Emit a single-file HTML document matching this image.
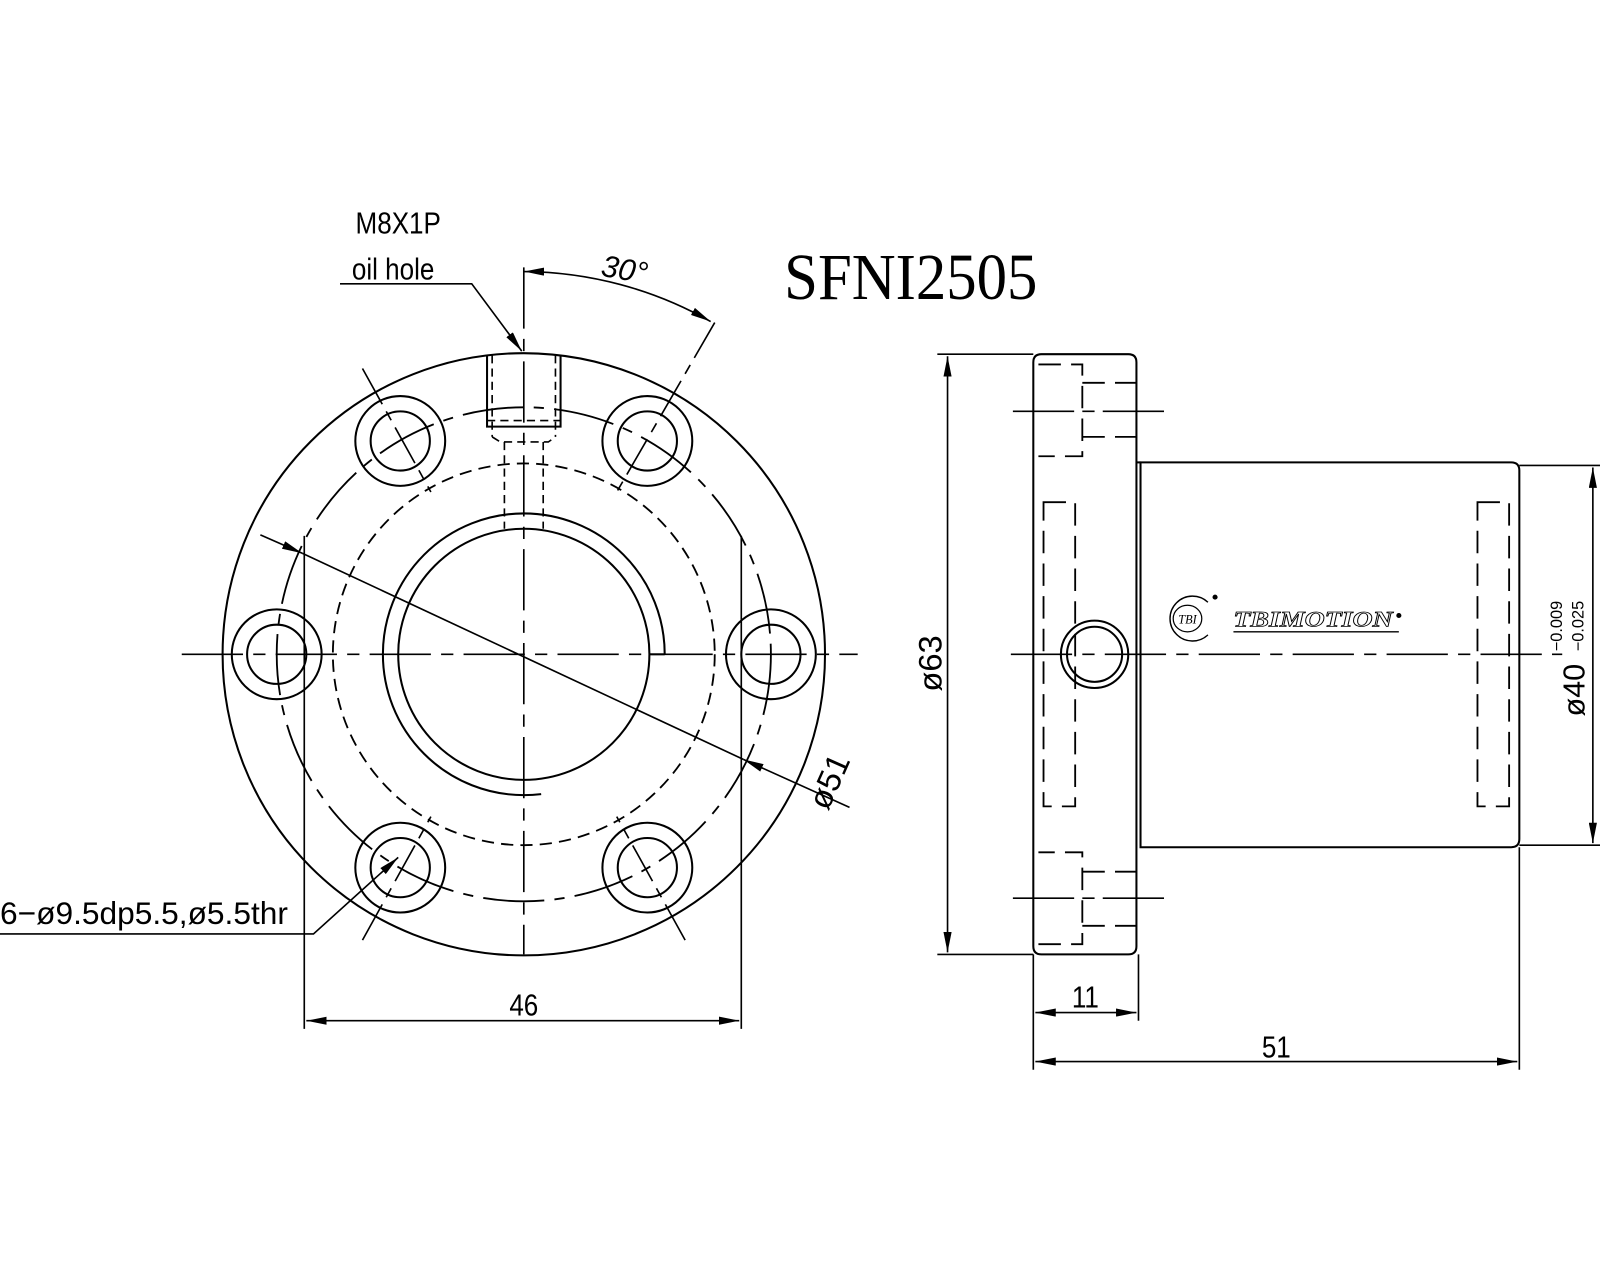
<!DOCTYPE html>
<html><head><meta charset="utf-8"><style>
html,body{margin:0;padding:0;background:#fff;}
svg{display:block;}
text{fill:#000;}
</style></head><body>
<svg width="1600" height="1280" viewBox="0 0 1567 1254" preserveAspectRatio="none" xmlns="http://www.w3.org/2000/svg" font-family="Liberation Sans, sans-serif">
<defs>
<marker id="a" viewBox="0 0 20 8" refX="20" refY="4" markerWidth="20" markerHeight="8" markerUnits="userSpaceOnUse" orient="auto-start-reverse"><path d="M0,0 L20,4 L0,8 z" fill="#000"/></marker>
</defs>
<g fill="none" stroke="#000" stroke-width="2">
<circle cx="513" cy="641" r="295"/>
<circle cx="513" cy="641" r="242" stroke-dasharray="60 10 10 10" stroke-width="1.8"/>
<circle cx="513" cy="641" r="187" stroke-dasharray="12 7" stroke-width="1.8"/>
<path d="M651,641 A138,138 0 1 0 513,779"/>
<line x1="636" y1="641" x2="651" y2="641"/>
<circle cx="513" cy="641" r="123"/>
<path d="M513,779 A138,138 0 0 0 530,778"/>
<g>
<circle cx="271" cy="641" r="44"/><circle cx="271" cy="641" r="29"/>
<circle cx="755" cy="641" r="44"/><circle cx="755" cy="641" r="29"/>
<circle cx="392" cy="432" r="44"/><circle cx="392" cy="432" r="29"/>
<circle cx="634" cy="432" r="44"/><circle cx="634" cy="432" r="29"/>
<circle cx="392" cy="850" r="44"/><circle cx="392" cy="850" r="29"/>
<circle cx="634" cy="850" r="44"/><circle cx="634" cy="850" r="29"/>
</g>
<g stroke-width="1.6" stroke-dasharray="40 8 10 8">
<line x1="355" y1="361" x2="422" y2="482"/>
<line x1="700" y1="316" x2="604" y2="482"/>
<line x1="355" y1="921" x2="422" y2="800"/>
<line x1="671" y1="921" x2="604" y2="800"/>
</g>
<line x1="178" y1="641" x2="840" y2="641" stroke-width="1.6" stroke-dasharray="60 10 12 10"/>
<line x1="513" y1="262" x2="513" y2="935" stroke-width="1.6" stroke-dasharray="60 10 12 10"/>
<path d="M477,348 V418 H549 V348"/>
<g stroke-dasharray="8 5" stroke-width="1.6">
<line x1="482" y1="348" x2="482" y2="428"/><line x1="544" y1="348" x2="544" y2="428"/>
<path d="M482,428 L490,433 H537 L544,428"/>
<line x1="477" y1="412" x2="549" y2="412"/>
<line x1="494" y1="433" x2="494" y2="518"/><line x1="532" y1="433" x2="532" y2="518"/>
</g>
<line x1="298" y1="525" x2="298" y2="1008" stroke-width="1.6"/>
<line x1="726" y1="525" x2="726" y2="1008" stroke-width="1.6"/>
<line x1="300" y1="1000" x2="724" y2="1000" stroke-width="1.6" marker-start="url(#a)" marker-end="url(#a)"/>
<line x1="255" y1="524" x2="296" y2="542" stroke-width="1.6" marker-end="url(#a)"/>
<line x1="296" y1="542" x2="728" y2="744" stroke-width="1.6"/>
<line x1="832" y1="791" x2="728" y2="744" stroke-width="1.6" marker-end="url(#a)"/>
<polyline points="333,278 462,278 511,344" stroke-width="1.6" marker-end="url(#a)"/>
<path d="M513,266 A375,375 0 0 1 696,315" stroke-width="1.6" marker-start="url(#a)" marker-end="url(#a)"/>
<polyline points="0,915 307,915 390,840" stroke-width="1.6" marker-end="url(#a)"/>

<path d="M1020,347 H1105 Q1113,347 1113,355 V927 Q1113,935 1105,935 H1020 Q1012,935 1012,927 V355 Q1012,347 1020,347 Z"/>
<path d="M1117,453 H1480 Q1488,453 1488,461 V822 Q1488,830 1480,830 H1117 Z"/>
<line x1="1113" y1="453" x2="1117" y2="453"/>
<g stroke-dasharray="22 10" stroke-width="1.8">
<path d="M1017,357 H1060 V447 H1017"/>
<line x1="1060" y1="375" x2="1113" y2="375"/><line x1="1060" y1="428" x2="1113" y2="428"/>
<path d="M1017,925 H1060 V835 H1017"/>
<line x1="1060" y1="907" x2="1113" y2="907"/><line x1="1060" y1="854" x2="1113" y2="854"/>
<rect x="1022" y="492" width="31" height="298"/>
<rect x="1447" y="492" width="31" height="298"/>
</g>
<line x1="992" y1="403" x2="1140" y2="403" stroke-width="1.6" stroke-dasharray="60 8 12 8"/>
<line x1="992" y1="880" x2="1140" y2="880" stroke-width="1.6" stroke-dasharray="60 8 12 8"/>
<circle cx="1072" cy="641" r="33"/><circle cx="1072" cy="641" r="27"/>
<line x1="990" y1="641" x2="1530" y2="641" stroke-width="1.6" stroke-dasharray="60 10 12 10"/>
<line x1="918" y1="347" x2="1012" y2="347" stroke-width="1.6"/>
<line x1="918" y1="935" x2="1012" y2="935" stroke-width="1.6"/>
<line x1="928" y1="349" x2="928" y2="933" stroke-width="1.6" marker-start="url(#a)" marker-end="url(#a)"/>
<line x1="1488" y1="456" x2="1567" y2="456" stroke-width="1.6"/>
<line x1="1488" y1="828" x2="1567" y2="828" stroke-width="1.6"/>
<line x1="1560" y1="458" x2="1560" y2="826" stroke-width="1.6" marker-start="url(#a)" marker-end="url(#a)"/>
<line x1="1012" y1="935" x2="1012" y2="1048" stroke-width="1.6"/>
<line x1="1115" y1="935" x2="1115" y2="1000" stroke-width="1.6"/>
<line x1="1488" y1="830" x2="1488" y2="1048" stroke-width="1.6"/>
<line x1="1014" y1="992" x2="1113" y2="992" stroke-width="1.6" marker-start="url(#a)" marker-end="url(#a)"/>
<line x1="1014" y1="1040" x2="1486" y2="1040" stroke-width="1.6" marker-start="url(#a)" marker-end="url(#a)"/>
<path d="M1183,590 A22,22 0 1 0 1183,622" stroke-width="1.4"/>
<ellipse cx="1163" cy="606" rx="14" ry="13" stroke-width="1.2"/>
<line x1="1208" y1="619" x2="1370" y2="619" stroke-width="1.4"/>
</g>
<g fill="#000">
<circle cx="1190" cy="585" r="2.5"/><circle cx="1370" cy="603" r="2.5"/>
</g>
<text x="1163" y="611" font-size="12" style="font-family:'Liberation Serif',serif;font-style:italic" text-anchor="middle">TBI</text>
<text x="1208" y="614" font-size="22" textLength="156" lengthAdjust="spacingAndGlyphs" style="font-family:'Liberation Serif',serif;font-style:italic;font-weight:bold;fill:#fff;stroke:#000;stroke-width:0.8">TBIMOTION</text>

<text x="390" y="229" font-size="30" text-anchor="middle" transform="translate(390 229) scale(0.85 1) translate(-390 -229)">M8X1P</text>
<text x="385" y="274" font-size="30" text-anchor="middle" transform="translate(385 274) scale(0.85 1) translate(-385 -274)">oil hole</text>
<text x="610" y="274" font-size="30" font-style="italic" text-anchor="middle" transform="rotate(10 610 274)">30°</text>
<text x="768" y="293" font-size="64" style="font-family:'Liberation Serif',serif" textLength="248" lengthAdjust="spacingAndGlyphs">SFNI2505</text>
<text x="513" y="995" font-size="30" text-anchor="middle" transform="translate(513 995) scale(0.85 1) translate(-513 -995)">46</text>
<text x="0" y="905" font-size="31" textLength="282" lengthAdjust="spacingAndGlyphs">6−ø9.5dp5.5,ø5.5thr</text>
<text x="0" y="0" font-size="32" text-anchor="middle" transform="translate(822 770) rotate(-66)">ø51</text>
<text x="0" y="0" font-size="32" text-anchor="middle" transform="translate(922 650) rotate(-90)">ø63</text>
<text x="0" y="0" font-size="30" transform="translate(1552 702) rotate(-90)">ø40</text>
<text x="0" y="0" font-size="16" transform="translate(1530 638) rotate(-90)">−0.009</text>
<text x="0" y="0" font-size="16" transform="translate(1551 638) rotate(-90)">−0.025</text>
<text x="1063" y="987" font-size="30" text-anchor="middle" transform="translate(1063 987) scale(0.85 1) translate(-1063 -987)">11</text>
<text x="1250" y="1036" font-size="30" text-anchor="middle" transform="translate(1250 1036) scale(0.85 1) translate(-1250 -1036)">51</text>
</svg>
</body></html>
